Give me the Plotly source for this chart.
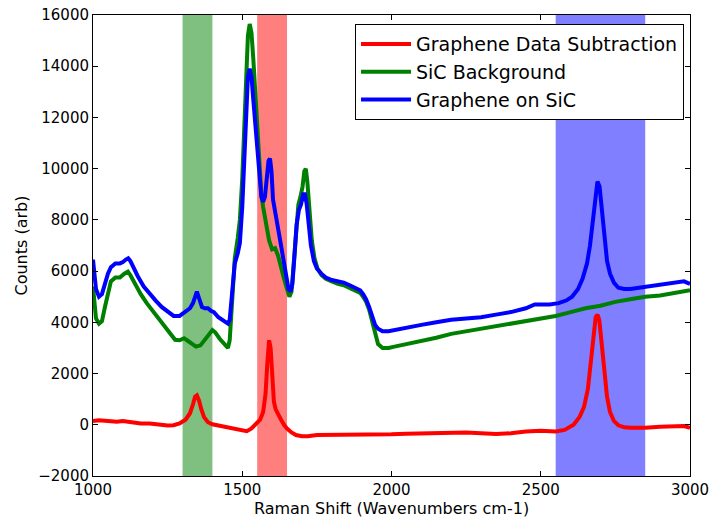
import plotly.graph_objects as go

# ---- data ----
blue_x = [1000, 1005, 1010, 1020, 1030, 1040, 1050, 1060, 1075, 1090, 1100, 1110, 1118, 1125, 1135, 1150, 1170, 1190,
          1210, 1230, 1250, 1270, 1290, 1310, 1325, 1335, 1343, 1348, 1355, 1365, 1375, 1385, 1395, 1405, 1420, 1440,
          1452, 1458, 1463, 1468, 1475, 1485, 1492, 1500, 1507, 1513, 1519, 1525, 1531, 1537, 1543, 1550, 1557, 1564,
          1570, 1576, 1582, 1588, 1593, 1598, 1603, 1610, 1618, 1627, 1637, 1647, 1655, 1662, 1668, 1675, 1682, 1690,
          1697, 1704, 1710, 1716, 1722, 1730, 1740, 1750, 1765, 1780, 1800, 1820, 1840, 1860, 1880, 1895, 1905, 1915,
          1925, 1935, 1945, 1955, 1970, 1990, 2010, 2050, 2100, 2150, 2200, 2250, 2300, 2350, 2400, 2450, 2480, 2500,
          2530, 2560, 2585, 2605, 2625, 2640, 2655, 2665, 2675, 2683, 2690, 2697, 2705, 2713, 2722, 2732, 2745, 2760,
          2780, 2800, 2830, 2860, 2900, 2950, 2980, 3000]
blue_y = [6450, 5900, 5300, 5000, 5100, 5500, 5900, 6150, 6300, 6300, 6350, 6450, 6500, 6400, 6150, 5800, 5400, 5100,
          4850, 4600, 4400, 4250, 4250, 4400, 4550, 4750, 5100, 5200, 4950, 4600, 4550, 4550, 4450, 4400, 4200, 4050,
          3950, 4100, 4700, 5600, 6300, 6700, 7100, 8500, 10500, 12300, 13600, 13900, 13600, 12700, 11800, 10700, 9600, 8900,
          8700, 8900, 9600, 10300, 10400, 9900, 8800, 8200, 7800, 7200, 6500, 5800, 5300, 5200, 5500, 6600, 7800, 8400,
          8600, 9000, 9000, 8600, 7800, 7000, 6400, 6100, 5900, 5750, 5650, 5600, 5550, 5450, 5350, 5250, 5100, 4900,
          4600, 4200, 3900, 3750, 3650, 3650, 3700, 3800, 3900, 4000, 4100, 4150, 4200, 4300, 4400, 4550, 4700, 4700,
          4700, 4750, 4850, 5000, 5300, 5700, 6300, 7000, 8000, 9000, 9500, 9300, 8400, 7300, 6400, 5900, 5550, 5350,
          5300, 5300, 5350, 5400, 5450, 5550, 5600, 5500]

green_x = [1000, 1005, 1010, 1020, 1030, 1040, 1050, 1060, 1075, 1090, 1105, 1117, 1125, 1140, 1160, 1180, 1200, 1220,
           1240, 1260, 1275, 1290, 1305, 1315, 1330, 1345, 1360, 1375, 1390, 1400, 1410, 1425, 1440, 1452, 1458, 1463,
           1468, 1475, 1485, 1492, 1500, 1507, 1513, 1519, 1525, 1531, 1537, 1543, 1550, 1557, 1564, 1570, 1580, 1590,
           1600, 1610, 1620, 1630, 1640, 1650, 1658, 1665, 1672, 1680, 1688, 1695, 1702, 1708, 1713, 1718, 1725, 1733,
           1742, 1752, 1765, 1780, 1800, 1820, 1840, 1860, 1880, 1895, 1905, 1915, 1925, 1935, 1945, 1955, 1970, 1990,
           2010, 2050, 2100, 2150, 2200, 2250, 2300, 2350, 2400, 2450, 2500, 2550, 2600, 2650, 2700, 2750, 2800, 2850,
           2900, 2950, 3000]
green_y = [5400, 4600, 4150, 3950, 4050, 4600, 5200, 5600, 5750, 5750, 5900, 5980, 5850, 5500, 5100, 4750, 4450, 4100,
           3800, 3500, 3320, 3300, 3380, 3300, 3150, 3050, 3100, 3300, 3550, 3700, 3600, 3350, 3150, 3000, 3300, 4300,
           5500, 6500, 7300, 8000, 9600, 11800, 13800, 15200, 15650, 15300, 14300, 13000, 11600, 10000, 9000, 8500, 7800, 7200,
           6850, 6900, 6600, 6100, 5700, 5300, 5000, 5200, 6200, 7600, 8600, 8900, 9300, 9900, 10000, 9500, 8300, 7200,
           6500, 6100, 5850, 5700, 5600, 5500, 5450, 5350, 5250, 5150, 5000, 4800, 4500, 4000, 3500, 3150, 3000, 3000,
           3050, 3150, 3250, 3400, 3550, 3650, 3750, 3850, 3950, 4050, 4150, 4250, 4400, 4550, 4650, 4800, 4900, 5000,
           5050, 5150, 5250]

red_x = [1000, 1020, 1050, 1080, 1100, 1130, 1160, 1190, 1220, 1250, 1270, 1290, 1310, 1325, 1335, 1342, 1348, 1355,
         1363, 1372, 1385, 1400, 1420, 1440, 1460, 1480, 1500, 1515, 1530, 1545, 1560, 1570, 1578, 1584, 1590, 1595,
         1600, 1606, 1612, 1620, 1630, 1640, 1650, 1665, 1680, 1700, 1720, 1750, 1800, 1850, 1900, 1950, 2000, 2050,
         2100, 2150, 2200, 2250, 2300, 2350, 2400, 2450, 2500, 2550, 2580, 2610, 2630, 2645, 2658, 2668, 2677, 2684,
         2690, 2696, 2703, 2712, 2722, 2732, 2745, 2760, 2780, 2800, 2850, 2900, 2950, 2980, 3000]
red_y = [150, 180, 150, 120, 150, 100, 50, 50, 0, -30, -20, 50, 200, 450, 800, 1100, 1150, 950,
         600, 300, 100, 20, -30, -80, -120, -150, -200, -250, -150, 0, 200, 500, 1200, 2400, 3300, 3000,
         1800, 900, 600, 450, 200, 0, -150, -300, -400, -450, -450, -400, -400, -380, -400, -380, -370, -350,
         -340, -340, -330, -300, -330, -360, -330, -260, -230, -260, -200, 0, 300, 700, 1400, 2400, 3500, 4200,
         4300, 4100, 3300, 2100, 1100, 500, 150, -20, -100, -120, -120, -80, -50, -50, -120]

bands = [(1300, 1400, "rgba(0,128,0,0.5)"), (1550, 1650, "rgba(255,0,0,0.5)"), (2550, 2850, "rgba(0,0,255,0.5)")]

x_ticks = [1000, 1500, 2000, 2500, 3000]
y_ticks = [-2000, 0, 2000, 4000, 6000, 8000, 10000, 12000, 14000, 16000]

FONT = "DejaVu Sans"

fig = go.Figure()
fig.add_trace(go.Scatter(x=red_x, y=red_y, mode="lines", name="Graphene Data Subtraction",
                         line=dict(color="#ff0000", width=4)))
fig.add_trace(go.Scatter(x=green_x, y=green_y, mode="lines", name="SiC Background",
                         line=dict(color="#008000", width=4)))
fig.add_trace(go.Scatter(x=blue_x, y=blue_y, mode="lines", name="Graphene on SiC",
                         line=dict(color="#0000ff", width=4)))

for x0, x1, c in bands:
    fig.add_vrect(x0=x0, x1=x1, fillcolor=c, line_width=0, layer="below")

axis_common = dict(showline=True, linecolor="black", linewidth=1, mirror="allticks", ticks="inside",
                   ticklen=5, tickcolor="black", showgrid=False, zeroline=False, automargin=False,
                   tickfont=dict(family=FONT, size=15, color="black"))

fig.update_layout(
    width=710, height=520,
    margin=dict(l=93, r=20, t=15, b=44),
    paper_bgcolor="white", plot_bgcolor="white",
    font=dict(family=FONT, color="black"),
    xaxis=dict(range=[1000, 3000], tickvals=x_ticks, ticktext=[str(v) for v in x_ticks],
               title=dict(text="Raman Shift (Wavenumbers cm-1)", font=dict(family=FONT, size=16), standoff=2),
               **axis_common),
    yaxis=dict(range=[-2000, 16000], tickvals=y_ticks,
               ticktext=[("\u2212" + str(-v)) if v < 0 else str(v) for v in y_ticks],
               title=dict(text="Counts (arb)", font=dict(family=FONT, size=16), standoff=6),
               **axis_common),
    legend=dict(x=0.99, y=0.98, xanchor="right", yanchor="top", bgcolor="white",
                bordercolor="black", borderwidth=1, font=dict(family=FONT, size=19),
                itemwidth=50, tracegroupgap=0),
    showlegend=True,
)

fig.write_html("out.html", config={"displayModeBar": False},
               post_script="document.body.style.margin='0';document.body.style.overflow='hidden';")
